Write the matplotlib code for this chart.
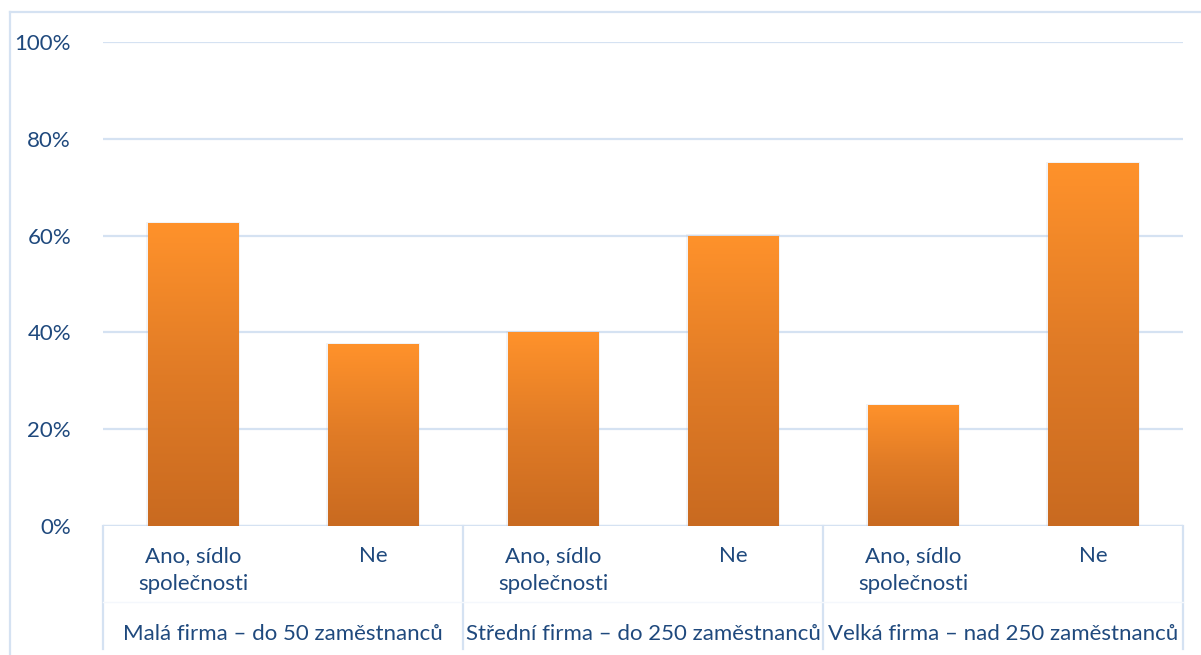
import numpy as np
import matplotlib.pyplot as plt
from matplotlib.transforms import blended_transform_factory
from matplotlib.colors import LinearSegmentedColormap
from matplotlib.patches import Rectangle
from matplotlib.lines import Line2D

plt.rcParams['font.family'] = ['Lato', 'DejaVu Sans']

# share of answers per firm size group
groups = ['Malá firma – do 50 zaměstnanců',
          'Střední firma – do 250 zaměstnanců',
          'Velká firma – nad 250 zaměstnanců']
answers = ['Ano, sídlo\nspolečnosti', 'Ne']
values = [0.625, 0.375, 0.40, 0.60, 0.25, 0.75]
yticks = [0, 0.2, 0.4, 0.6, 0.8, 1.0]

text_col = '#1f497d'
grid_col = '#d5e2f2'
fs = 16

W, H = 1201, 655
fig = plt.figure(figsize=(W / 100, H / 100), dpi=100)
ax = fig.add_axes([103 / W, 1 - 526 / H, 1080 / W, 484 / H])

x = np.arange(len(values))
bars = ax.bar(x, values, width=0.505, color='none', zorder=3)

# vertical orange gradient inside each bar
cmap = LinearSegmentedColormap.from_list('og', ['#c96a20', '#e07b26', '#ff922b'])
grad = np.linspace(0, 1, 256).reshape(-1, 1)
for b in bars:
    bx, by = b.get_x(), b.get_y()
    bw, bh = b.get_width(), b.get_height()
    im = ax.imshow(grad, extent=[bx, bx + bw, by, by + bh], origin='lower',
                   cmap=cmap, aspect='auto', zorder=3)
    im.set_clip_path(b)
    # soft shadow at the bar edges
    ax.add_patch(Rectangle((bx - 0.008, by), bw + 0.016, bh + 0.003,
                           facecolor='#b8c0cc', alpha=0.18, edgecolor='none',
                           zorder=2))

ax.set_xlim(-0.5, len(values) - 0.5)
ax.set_ylim(0, 1)
ax.set_yticks(yticks)
ax.set_yticklabels([f'{int(round(t * 100))}%' for t in yticks])
ax.tick_params(axis='y', length=0, pad=23, labelsize=fs, labelcolor=text_col)
ax.set_xticks([])
ax.grid(axis='y', color=grid_col, linewidth=1.6, zorder=0)
for s in ax.spines.values():
    s.set_visible(False)
ax.axhline(0, color=grid_col, linewidth=1.6, zorder=1)

# two-level category labels below the axis
tr = blended_transform_factory(ax.transData, fig.transFigure)
for i in range(len(values)):
    ax.text(i, 1 - 546 / H, answers[i % 2], transform=tr, ha='center', va='top',
            fontsize=fs, color=text_col, linespacing=1.5)
for g, name in enumerate(groups):
    ax.text(2 * g + 0.5, 1 - 634 / H, name, transform=tr, ha='center',
            va='center', fontsize=fs, color=text_col)
for xs in [-0.5, 1.5, 3.5, 5.5]:
    fig.add_artist(Line2D([xs, xs], [1 - 526 / H, 1 - 649 / H], transform=tr,
                          color=grid_col, linewidth=1.6))
fig.add_artist(Line2D([103 / W, 1183 / W], [1 - 602 / H, 1 - 602 / H],
                      color='#f4f7fc', linewidth=1))

# outer chart frame
fig.add_artist(Line2D([10 / W, 10 / W], [0, 1 - 12 / H], color=grid_col, linewidth=1.6))
fig.add_artist(Line2D([10 / W, 1], [1 - 12 / H, 1 - 12 / H], color=grid_col, linewidth=1.6))

fig.savefig('out.png', dpi=100)
